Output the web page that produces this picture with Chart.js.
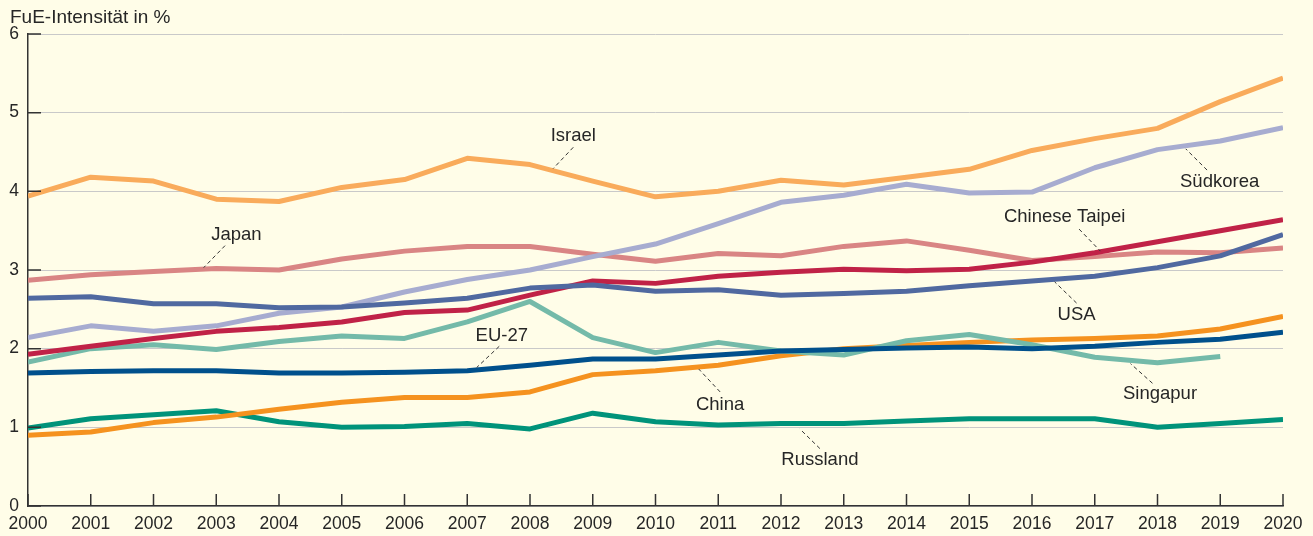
<!DOCTYPE html>
<html lang="de">
<head>
  <meta charset="UTF-8">
  <title>FuE-Intensität</title>
  <script src="https://cdn.jsdelivr.net/npm/chart.js"></script>
  <style>
    html, body { margin: 0; padding: 0; background: #fffde8; }
    #wrap { width: 1313px; height: 536px; position: relative; }
  </style>
</head>
<body>
  <div id="wrap"><canvas id="myChart"></canvas></div>

  <script>
    const years = [2000, 2001, 2002, 2003, 2004, 2005, 2006, 2007, 2008, 2009, 2010,
                   2011, 2012, 2013, 2014, 2015, 2016, 2017, 2018, 2019, 2020];
    const yTicks = [0, 1, 2, 3, 4, 5, 6];

    const israel        = [3.94, 4.18, 4.13, 3.90, 3.87, 4.05, 4.15, 4.42, 4.34, 4.13, 3.93, 4.00, 4.14, 4.08, 4.18, 4.28, 4.52, 4.67, 4.80, 5.14, 5.44];
    const suedkorea     = [2.14, 2.29, 2.22, 2.29, 2.45, 2.53, 2.72, 2.88, 3.00, 3.17, 3.33, 3.59, 3.86, 3.95, 4.09, 3.98, 3.99, 4.30, 4.53, 4.64, 4.81];
    const japan         = [2.87, 2.94, 2.98, 3.02, 3.00, 3.14, 3.24, 3.30, 3.30, 3.20, 3.11, 3.21, 3.18, 3.30, 3.37, 3.25, 3.12, 3.17, 3.23, 3.22, 3.28];
    const chineseTaipei = [1.93, 2.03, 2.13, 2.22, 2.27, 2.34, 2.46, 2.49, 2.68, 2.86, 2.83, 2.92, 2.97, 3.01, 2.99, 3.01, 3.10, 3.22, 3.36, 3.50, 3.64];
    const usa           = [2.64, 2.66, 2.57, 2.57, 2.52, 2.53, 2.58, 2.64, 2.77, 2.81, 2.73, 2.75, 2.68, 2.70, 2.73, 2.80, 2.86, 2.92, 3.03, 3.18, 3.45];
    const singapur      = [1.83, 2.00, 2.05, 1.99, 2.09, 2.16, 2.13, 2.34, 2.60, 2.14, 1.95, 2.08, 1.97, 1.92, 2.10, 2.18, 2.05, 1.89, 1.82, 1.90];
    const eu27          = [1.69, 1.71, 1.72, 1.72, 1.69, 1.69, 1.70, 1.72, 1.79, 1.87, 1.87, 1.92, 1.97, 1.99, 2.01, 2.02, 2.00, 2.03, 2.08, 2.12, 2.21];
    const china         = [0.90, 0.94, 1.06, 1.13, 1.23, 1.32, 1.38, 1.38, 1.45, 1.67, 1.72, 1.79, 1.91, 2.00, 2.04, 2.08, 2.11, 2.13, 2.16, 2.25, 2.41];
    const russland      = [0.99, 1.11, 1.16, 1.21, 1.07, 1.00, 1.01, 1.05, 0.98, 1.18, 1.07, 1.03, 1.05, 1.05, 1.08, 1.11, 1.11, 1.11, 1.00, 1.05, 1.10];

    // text labels with dashed leader lines (in data units: year, percent)
    const callouts = [
      { text: 'Israel',         at: [2008.69, 4.71], from: [2008.69, 4.56], to: [2008.37, 4.29] },
      { text: 'Japan',          at: [2003.32, 3.44], from: [2003.14, 3.31], to: [2002.80, 3.03] },
      { text: 'EU-27',          at: [2007.55, 2.16], from: [2007.51, 2.03], to: [2007.15, 1.76] },
      { text: 'China',          at: [2011.03, 1.28], from: [2011.03, 1.45], to: [2010.69, 1.74] },
      { text: 'Russland',       at: [2012.62, 0.59], from: [2012.62, 0.73], to: [2012.30, 0.98] },
      { text: 'Singapur',       at: [2018.04, 1.42], from: [2017.92, 1.56], to: [2017.57, 1.81] },
      { text: 'USA',            at: [2016.71, 2.43], from: [2016.71, 2.58], to: [2016.36, 2.85] },
      { text: 'Chinese Taipei', at: [2016.52, 3.67], from: [2016.75, 3.52], to: [2017.09, 3.24] },
      { text: 'Südkorea',       at: [2018.99, 4.12], from: [2018.79, 4.27], to: [2018.45, 4.54] }
    ];

    const FONT = '"Liberation Sans", Arial, sans-serif';
    const TEXT = '#262626';

    const toPoints = (vals) => vals.map((v, i) => ({ x: years[i], y: v }));

    // first dataset is drawn on top
    const series = [
      { label: 'USA',            data: usa,           color: '#5069a0' },
      { label: 'Chinese Taipei', data: chineseTaipei, color: '#c02247' },
      { label: 'Südkorea',       data: suedkorea,     color: '#a7acd0' },
      { label: 'Japan',          data: japan,         color: '#d98584' },
      { label: 'EU-27',          data: eu27,          color: '#00508c' },
      { label: 'Singapur',       data: singapur,      color: '#74baa9' },
      { label: 'China',          data: china,         color: '#f5921f' },
      { label: 'Russland',       data: russland,      color: '#00937a' },
      { label: 'Israel',         data: israel,        color: '#f9ab5b' }
    ];

    const extras = {
      id: 'extras',
      afterDatasetsDraw(chart) {
        const { ctx, scales: { x, y }, chartArea } = chart;
        ctx.save();

        // tick marks pointing into the plot
        ctx.strokeStyle = '#333';
        ctx.lineWidth = 1.5;
        ctx.beginPath();
        yTicks.forEach(v => {
          const py = y.getPixelForValue(v);
          ctx.moveTo(chartArea.left, py);
          ctx.lineTo(chartArea.left + 13, py);
        });
        years.forEach(yr => {
          const px = x.getPixelForValue(yr);
          ctx.moveTo(px, chartArea.bottom);
          ctx.lineTo(px, chartArea.bottom - 12);
        });
        ctx.stroke();

        // callouts
        ctx.lineWidth = 1;
        ctx.strokeStyle = '#333';
        ctx.setLineDash([4, 3]);
        callouts.forEach(c => {
          ctx.beginPath();
          ctx.moveTo(x.getPixelForValue(c.from[0]), y.getPixelForValue(c.from[1]));
          ctx.lineTo(x.getPixelForValue(c.to[0]), y.getPixelForValue(c.to[1]));
          ctx.stroke();
        });
        ctx.setLineDash([]);
        ctx.fillStyle = TEXT;
        ctx.font = '18.5px ' + FONT;
        ctx.textAlign = 'center';
        ctx.textBaseline = 'middle';
        callouts.forEach(c => {
          ctx.fillText(c.text, x.getPixelForValue(c.at[0]), y.getPixelForValue(c.at[1]));
        });

        // axis title
        ctx.font = '19px ' + FONT;
        ctx.textAlign = 'left';
        ctx.textBaseline = 'alphabetic';
        ctx.fillText('FuE-Intensität in %', 10, 23);
        ctx.restore();
      }
    };

    const ctx = document.getElementById('myChart').getContext('2d');
    new Chart(ctx, {
      type: 'line',
      data: {
        datasets: series.map(s => ({
          label: s.label,
          data: toPoints(s.data),
          borderColor: s.color,
          borderWidth: 5,
          pointRadius: 0,
          tension: 0,
          fill: false,
          borderJoinStyle: 'round'
        }))
      },
      options: {
        responsive: true,
        maintainAspectRatio: false,
        animation: false,
        devicePixelRatio: 1,
        layout: { padding: { top: 34, right: 30, left: 0, bottom: 0 } },
        plugins: { legend: { display: false }, tooltip: { enabled: false } },
        scales: {
          x: {
            type: 'linear',
            min: 2000,
            max: 2020,
            afterFit: s => { s.height = 30; },
            afterBuildTicks: s => { s.ticks = years.map(v => ({ value: v })); },
            grid: { display: false, drawTicks: false },
            border: { color: '#333', width: 1.5 },
            ticks: {
              callback: v => String(v),
              maxRotation: 0,
              autoSkip: false,
              padding: 8,
              color: TEXT,
              font: { family: FONT, size: 17.5 }
            }
          },
          y: {
            min: 0,
            max: 6,
            afterFit: s => { s.width = 28; },
            afterBuildTicks: s => { s.ticks = yTicks.map(v => ({ value: v })); },
            grid: { color: '#c9c9c9', lineWidth: 1, drawTicks: false },
            border: { color: '#333', width: 1.5 },
            ticks: {
              padding: 9,
              color: TEXT,
              font: { family: FONT, size: 17.5 }
            }
          }
        }
      },
      plugins: [extras]
    });
  </script>
</body>
</html>
